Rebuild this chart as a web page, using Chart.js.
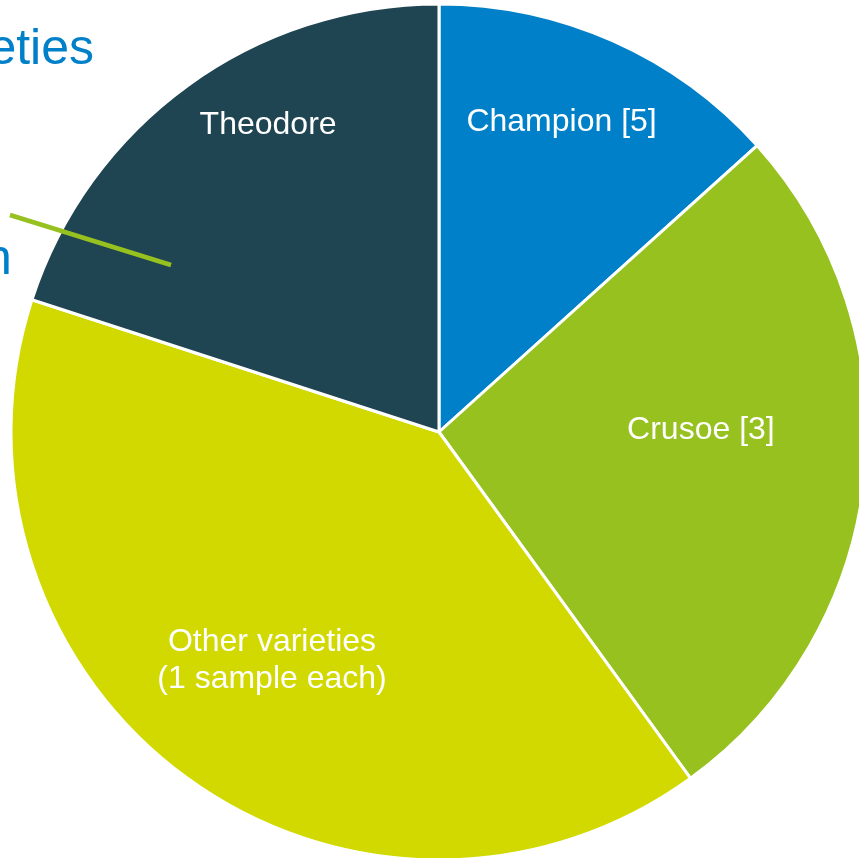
<!DOCTYPE html>
<html>
<head>
<meta charset="utf-8">
<script src="https://cdn.jsdelivr.net/npm/chart.js@4/dist/chart.umd.min.js"></script>
<style>
  html, body { margin: 0; padding: 0; background: #ffffff; overflow: hidden; }
  canvas { display: block; }
</style>
</head>
<body>
<canvas id="varietyPie" width="859" height="858"></canvas>
<script>
'use strict';
// ============================================================
// VARIETY PIE
// ============================================================
var labels = ['Champion [5]', 'Crusoe [3]', ['Other varieties', '(1 sample each)'], 'Theodore'];
var shares = [2, 4, 6, 3];
var colours = ['#0080c8', '#96c11f', '#d1d900', '#1f4452'];

// label anchor inside each slice: [fraction of sweep, fraction of radius]
var LABEL_POS = [[0.447, 0.783], [0.428, 0.612], [0.503, 0.657], [0.598, 0.825]];
var FONT = "'Liberation Sans', Arial, sans-serif";

var sliceLabels = {
  id: 'sliceLabels',
  afterDatasetsDraw: function(chart) {
    var ctx = chart.ctx;
    var meta = chart.getDatasetMeta(0);
    ctx.save();
    ctx.fillStyle = '#ffffff';
    ctx.font = '32px ' + FONT;
    ctx.textAlign = 'center';
    ctx.textBaseline = 'alphabetic';
    meta.data.forEach(function(arc, i) {
      var p = arc.getProps(['x', 'y', 'startAngle', 'endAngle', 'outerRadius'], true);
      var a = p.startAngle + (p.endAngle - p.startAngle) * LABEL_POS[i][0];
      var r = p.outerRadius * LABEL_POS[i][1];
      var cx = p.x + Math.cos(a) * r, cy = p.y + Math.sin(a) * r;
      var lines = [].concat(labels[i]);
      var lh = 37;
      var top = cy - (lines.length - 1) * lh / 2;
      lines.forEach(function(t, j) { ctx.fillText(t, cx, top + j * lh + 11); });
    });
    ctx.restore();
  }
};

// slide title and callout fragments around the pie
var slideText = {
  id: 'slideText',
  afterDraw: function(chart) {
    var ctx = chart.ctx;
    ctx.save();
    ctx.strokeStyle = '#96c11f';
    ctx.lineWidth = 4.5;
    ctx.beginPath();
    ctx.moveTo(10, 215);
    ctx.lineTo(171, 265);
    ctx.stroke();
    ctx.fillStyle = '#0080c8';
    ctx.font = '50px ' + FONT;
    ctx.textBaseline = 'alphabetic';
    ctx.textAlign = 'right';
    ctx.fillText('eties', 94, 64);
    ctx.textAlign = 'left';
    ctx.fillText('n', -16, 274);
    ctx.restore();
  }
};

new Chart(document.getElementById('varietyPie'), {
  type: 'pie',
  data: {
    labels: labels,
    datasets: [{
      data: shares,
      backgroundColor: colours,
      borderColor: '#ffffff',
      borderWidth: 3,
      radius: 428,
      clip: false
    }]
  },
  options: {
    responsive: false,
    animation: false,
    layout: { padding: { left: 19, top: 6, right: 0, bottom: 0 } },
    plugins: { legend: { display: false }, tooltip: { enabled: false } }
  },
  plugins: [sliceLabels, slideText]
});
</script>
</body>
</html>
